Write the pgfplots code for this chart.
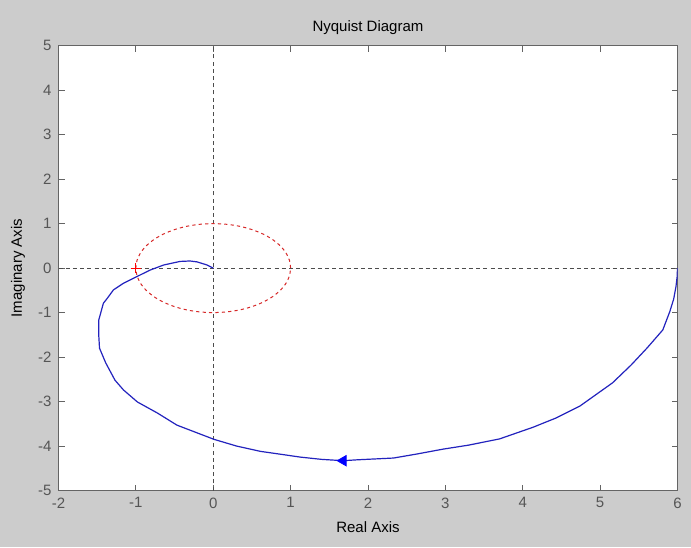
\documentclass[border=0pt]{standalone}
\usepackage{fontspec}
\setmainfont{Liberation Sans}
\usepackage{pgfplots}
\pgfplotsset{compat=1.18}
\definecolor{figbg}{RGB}{204,204,204}
\definecolor{axgray}{RGB}{100,100,100}
\definecolor{labgray}{RGB}{85,85,85}
\definecolor{curveblue}{RGB}{35,35,190}
\definecolor{circred}{RGB}{215,40,40}
\begin{document}
\begin{tikzpicture}
\fill[figbg] (0,0) rectangle (345.5pt,273.5pt);
\begin{axis}[
  at={(29.25pt,28.25pt)}, anchor=south west,
  scale only axis, width=309.5pt, height=222.4pt,
  xmin=-2, xmax=6, ymin=-5, ymax=5,
  xtick={-2,-1,0,1,2,3,4,5,6},
  ytick={-5,-4,-3,-2,-1,0,1,2,3,4,5},
  tick align=inside, major tick length=3pt,
  axis background/.style={fill=white},
  axis line style={axgray, line width=0.6pt},
  tick style={axgray, line width=0.4pt},
  ticklabel style={font=\fontsize{7.5}{9}\selectfont, text=labgray},
  /pgf/number format/assume math mode=true,
  clip=true,
]
% zero lines
\addplot[gray!60!black, line width=0.5pt, dash pattern=on 2pt off 1.6pt] coordinates {(-2,0) (6,0)};
\addplot[gray!60!black, line width=0.5pt, dash pattern=on 2pt off 1.6pt] coordinates {(0,-5) (0,5)};
% unit circle
\addplot[circred, line width=0.5pt, dash pattern=on 1.6pt off 1.6pt, smooth] coordinates {
(1,0) (0.985,0.174) (0.940,0.342) (0.866,0.5) (0.766,0.643) (0.643,0.766) (0.5,0.866) (0.342,0.940) (0.174,0.985) (0,1)
(-0.174,0.985) (-0.342,0.940) (-0.5,0.866) (-0.643,0.766) (-0.766,0.643) (-0.866,0.5) (-0.940,0.342) (-0.985,0.174) (-1,0)
(-0.985,-0.174) (-0.940,-0.342) (-0.866,-0.5) (-0.766,-0.643) (-0.643,-0.766) (-0.5,-0.866) (-0.342,-0.940) (-0.174,-0.985) (0,-1)
(0.174,-0.985) (0.342,-0.940) (0.5,-0.866) (0.643,-0.766) (0.766,-0.643) (0.866,-0.5) (0.940,-0.342) (0.985,-0.174) (1,0)};
% Nyquist curve
\addplot[curveblue, line width=0.6pt] coordinates {
(6,0) (5.995,-0.2) (5.98,-0.42) (5.95,-0.7) (5.90,-0.98) (5.81,-1.39) (5.61,-1.79) (5.40,-2.18) (5.16,-2.58) (4.74,-3.1)
(4.43,-3.37) (4.13,-3.58) (3.70,-3.84) (3.30,-3.98)
(2.97,-4.07) (2.63,-4.18) (2.33,-4.27) (1.86,-4.31) (1.68,-4.33) (1.40,-4.30) (1.13,-4.25) (0.61,-4.12) (0.30,-4.00) (0.01,-3.85)
(-0.47,-3.53) (-0.72,-3.26) (-0.98,-3.01) (-1.16,-2.74) (-1.27,-2.52) (-1.39,-2.13) (-1.47,-1.80)
(-1.48,-1.50) (-1.48,-1.17) (-1.42,-0.79) (-1.37,-0.68) (-1.29,-0.49) (-1.16,-0.34) (-1.01,-0.21) (-0.81,-0.04)
(-0.64,0.07) (-0.43,0.15) (-0.30,0.16) (-0.21,0.14) (-0.08,0.07) (0,0)};
% direction arrow
\addplot[only marks, mark=triangle*, mark size=3pt, color=blue, mark options={rotate=90, fill=blue}] coordinates {(1.68,-4.33)};
% critical point
\addplot[only marks, mark=+, mark size=2.6pt, color=red, mark options={line width=0.6pt}] coordinates {(-1,0)};
\end{axis}
\node[font=\fontsize{7.5}{9}\selectfont] at (184pt,259.5pt) {Nyquist Diagram};
\node[font=\fontsize{7.5}{9}\selectfont] at (184pt,10pt) {Real Axis};
\node[font=\fontsize{7.5}{9}\selectfont, rotate=90] at (9pt,139.5pt) {Imaginary Axis};
\end{tikzpicture}
\end{document}
